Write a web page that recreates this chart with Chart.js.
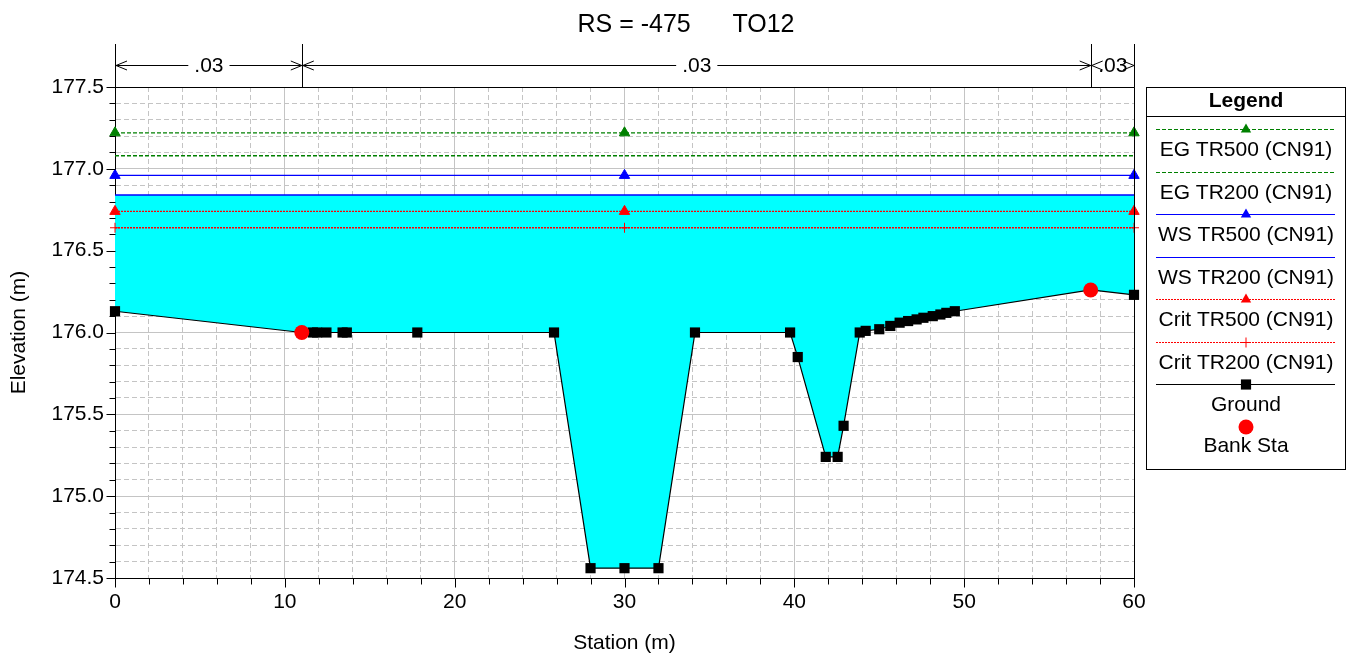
<!DOCTYPE html>
<html>
<head>
<meta charset="utf-8">
<script src="https://cdn.jsdelivr.net/npm/chart.js@4/dist/chart.umd.min.js"></script>
<style>
html,body{margin:0;padding:0;background:#fff;}
#wrap{position:relative;width:1351px;height:663px;}
canvas{display:block;}
</style>
</head>
<body>
<div id="wrap"><canvas id="c" width="1351" height="663"></canvas></div>
<script>
// ---------------- DATA ----------------
const chartTitle = 'RS = -475      TO12';
const xAxisTitle = 'Station (m)';
const yAxisTitle = 'Elevation (m)';
const legendTitle = 'Legend';

const groundStation = [0, 11.0, 11.65, 11.9, 12.45, 13.4, 13.65, 17.8, 25.85, 28.0, 30.0, 32.0, 34.15, 39.75, 40.2, 41.85, 42.55, 42.9, 43.85, 44.2, 45.0, 45.65, 46.2, 46.7, 47.2, 47.6, 48.15, 48.6, 48.95, 49.45, 57.45, 60.0];
const groundElevation = [176.13, 176.00, 176.00, 176.00, 176.00, 176.00, 176.00, 176.00, 176.00, 174.56, 174.56, 174.56, 176.00, 176.00, 175.85, 175.24, 175.24, 175.43, 176.00, 176.01, 176.02, 176.04, 176.06, 176.07, 176.08, 176.09, 176.10, 176.11, 176.12, 176.13, 176.26, 176.23];

const bankStation = [11.0, 57.45];
const bankElevation = [176.00, 176.26];

const profileNames = ['EG TR500 (CN91)', 'EG TR200 (CN91)', 'WS TR500 (CN91)', 'WS TR200 (CN91)', 'Crit TR500 (CN91)', 'Crit TR200 (CN91)'];
const profileElevation = [177.22, 177.08, 176.96, 176.84, 176.74, 176.64];
const profileStations = [0, 30, 60];
const waterFillProfile = 'WS TR200 (CN91)';

const manningValues = ['.03', '.03', '.03'];

const xTicks = {min: 0, max: 60, step: 2, labelEvery: 10};
const yTicks = {min: 174.5, max: 177.5, step: 0.1, labelEvery: 0.5};

// ---------------- STYLES ----------------
const FONT = '"Liberation Sans", Arial, sans-serif';
const profileStyles = [
  {color: '#008000', dash: [4, 2], marker: 'triangle'},
  {color: '#008000', dash: [4, 2], marker: null},
  {color: '#0000ff', dash: [], marker: 'triangle'},
  {color: '#0000ff', dash: [], marker: null},
  {color: '#ff0000', dash: [2, 1], marker: 'triangle'},
  {color: '#ff0000', dash: [2, 1], marker: 'cross'}
];

const datasets = profileNames.map((name, i) => {
  const st = profileStyles[i];
  const pts = st.marker ? profileStations : [profileStations[0], profileStations[profileStations.length - 1]];
  return {
    label: name,
    data: pts.map(x => ({x: x, y: profileElevation[i]})),
    showLine: true,
    borderColor: st.color,
    borderWidth: 1.3,
    borderDash: st.dash,
    backgroundColor: st.color,
    pointStyle: st.marker || 'circle',
    pointRadius: st.marker ? (st.marker === 'cross' ? 5 : 6) : 0,
    pointBackgroundColor: st.color,
    pointBorderColor: st.color,
    pointBorderWidth: 1,
    fill: false,
    tension: 0,
    clip: false,
    order: 2,
    _marker: st.marker,
    _line: true
  };
});

datasets.push({
  label: 'Ground',
  data: groundStation.map((x, i) => ({x: x, y: groundElevation[i]})),
  showLine: true,
  borderColor: '#000000',
  borderWidth: 1.2,
  backgroundColor: '#00ffff',
  fill: {value: profileElevation[profileNames.indexOf(waterFillProfile)]},
  pointStyle: 'rect',
  pointRadius: 7.2,
  pointBackgroundColor: '#000000',
  pointBorderColor: '#000000',
  pointBorderWidth: 0,
  tension: 0,
  clip: false,
  order: 1,
  _marker: 'rect',
  _line: true
});

datasets.push({
  label: 'Bank Sta',
  data: bankStation.map((x, i) => ({x: x, y: bankElevation[i]})),
  showLine: false,
  borderColor: '#ff0000',
  backgroundColor: '#ff0000',
  pointStyle: 'circle',
  pointRadius: 7.5,
  pointBackgroundColor: '#ff0000',
  pointBorderColor: '#ff0000',
  pointBorderWidth: 0,
  clip: false,
  order: 0,
  _marker: 'circle',
  _line: false
});

function near(v, step) { const q = v / step; return Math.abs(q - Math.round(q)) < 1e-6; }

function drawMarker(ctx, style, x, y, r, color) {
  ctx.save();
  ctx.setLineDash([]);
  ctx.fillStyle = color; ctx.strokeStyle = color; ctx.lineWidth = 1;
  ctx.beginPath();
  if (style === 'triangle') {
    ctx.moveTo(x, y - r);
    ctx.lineTo(x + 0.866 * r, y + 0.5 * r);
    ctx.lineTo(x - 0.866 * r, y + 0.5 * r);
    ctx.closePath(); ctx.fill();
  } else if (style === 'rect') {
    const s = r * Math.SQRT1_2;
    ctx.rect(x - s, y - s, 2 * s, 2 * s); ctx.fill();
  } else if (style === 'cross') {
    ctx.moveTo(x - r, y); ctx.lineTo(x + r, y);
    ctx.moveTo(x, y - r); ctx.lineTo(x, y + r); ctx.stroke();
  } else {
    ctx.arc(x, y, r, 0, Math.PI * 2); ctx.fill();
  }
  ctx.restore();
}

const decorPlugin = {
  id: 'decor',
  afterDraw(chart) {
    const ctx = chart.ctx;
    const xs = chart.scales.x, ys = chart.scales.y;
    const ca = chart.chartArea;
    const L = Math.round(ca.left) + 0.5, R = Math.round(ca.right) + 0.5;
    const T = Math.round(ca.top) + 0.5, B = Math.round(ca.bottom) + 0.5;
    ctx.save();
    ctx.setLineDash([]);
    ctx.strokeStyle = '#000'; ctx.lineWidth = 1;
    // frame
    ctx.beginPath();
    ctx.moveTo(L, T); ctx.lineTo(R, T); ctx.lineTo(R, B);
    ctx.stroke();
    // tick marks
    ctx.beginPath();
    xs.ticks.forEach(t => {
      const px = Math.round(xs.getPixelForValue(t.value)) + 0.5;
      const len = near(t.value, xTicks.labelEvery) ? 9 : 6;
      ctx.moveTo(px, B); ctx.lineTo(px, B + len);
    });
    ys.ticks.forEach(t => {
      const py = Math.round(ys.getPixelForValue(t.value)) + 0.5;
      const len = near(t.value - yTicks.min, yTicks.labelEvery) ? 9 : 6;
      ctx.moveTo(L, py); ctx.lineTo(L - len, py);
    });
    ctx.stroke();

    // Manning's n header
    const breaks = [groundStation[0]].concat(bankStation, [groundStation[groundStation.length - 1]]);
    const yTop = 44, yArrow = 65.5;
    ctx.font = '21px ' + FONT;
    ctx.textAlign = 'center'; ctx.textBaseline = 'middle'; ctx.fillStyle = '#000';
    ctx.beginPath();
    breaks.forEach(b => {
      const px = Math.round(xs.getPixelForValue(b)) + 0.5;
      ctx.moveTo(px, yTop); ctx.lineTo(px, T);
    });
    ctx.stroke();
    for (let i = 0; i < breaks.length - 1; i++) {
      const x1 = xs.getPixelForValue(breaks[i]) + 1, x2 = xs.getPixelForValue(breaks[i + 1]);
      const mid = (x1 + x2) / 2;
      const tw = ctx.measureText(manningValues[i]).width;
      ctx.beginPath();
      if (x2 - x1 > tw + 30) {
        ctx.moveTo(x1, yArrow); ctx.lineTo(mid - tw / 2 - 6, yArrow);
        ctx.moveTo(mid + tw / 2 + 6, yArrow); ctx.lineTo(x2, yArrow);
      }
      ctx.moveTo(x1 + 11, yArrow - 4.5); ctx.lineTo(x1, yArrow); ctx.lineTo(x1 + 11, yArrow + 4.5);
      ctx.moveTo(x2 - 11, yArrow - 4.5); ctx.lineTo(x2, yArrow); ctx.lineTo(x2 - 11, yArrow + 4.5);
      ctx.stroke();
      ctx.fillText(manningValues[i], mid, yArrow + 1);
    }

    // Title
    ctx.font = '25px ' + FONT;
    ctx.textAlign = 'center'; ctx.textBaseline = 'middle';
    ctx.fillText(chartTitle, 686, 25);

    // Legend
    const lx0 = 1146.5, lx1 = 1345.5, ly0 = T, ly1 = 469.5;
    const cx = (lx0 + lx1) / 2;
    ctx.strokeStyle = '#000';
    ctx.strokeRect(lx0, ly0, lx1 - lx0, ly1 - ly0);
    ctx.beginPath(); ctx.moveTo(lx0, 116.5); ctx.lineTo(lx1, 116.5); ctx.stroke();
    ctx.font = 'bold 21px ' + FONT;
    ctx.fillText(legendTitle, cx, 101);
    ctx.font = '21px ' + FONT;
    chart.data.datasets.forEach((ds, i) => {
      if (ds._line) {
        const sy = Math.round(129 + i * 42.5) + 0.5;
        ctx.save();
        ctx.strokeStyle = ds.borderColor; ctx.lineWidth = 1;
        ctx.setLineDash(ds.borderDash || []);
        ctx.beginPath(); ctx.moveTo(1156, sy); ctx.lineTo(1335, sy); ctx.stroke();
        ctx.restore();
        if (ds._marker) drawMarker(ctx, ds._marker, cx, sy, ds._marker === 'cross' ? 5 : (ds._marker === 'rect' ? 7.2 : 6), ds.pointBackgroundColor);
        ctx.fillStyle = '#000';
        ctx.fillText(ds.label, cx, sy + 21);
      } else {
        drawMarker(ctx, ds._marker, cx, 427, 7.5, ds.pointBackgroundColor);
        ctx.fillStyle = '#000';
        ctx.fillText(ds.label, cx, 446);
      }
    });
    ctx.restore();
  }
};

const gridColor = '#c4c4c4';
new Chart(document.getElementById('c'), {
  type: 'scatter',
  data: {datasets: datasets},
  options: {
    responsive: false,
    animation: false,
    events: [],
    layout: {padding: {left: 0, right: 217, top: 87, bottom: 0}},
    plugins: {
      legend: {display: false},
      tooltip: {enabled: false},
      title: {display: false},
      filler: {drawTime: 'beforeDatasetsDraw'}
    },
    scales: {
      x: {
        type: 'linear',
        min: xTicks.min, max: xTicks.max,
        afterFit(s) { s.height = 85; s.paddingLeft = 0; s.paddingRight = 0; },
        ticks: {
          stepSize: xTicks.step, autoSkip: false, maxRotation: 0, padding: 12,
          color: '#000', font: {family: FONT, size: 21},
          callback: v => near(v, xTicks.labelEvery) ? String(Math.round(v)) : ''
        },
        grid: {color: gridColor, lineWidth: 1, drawTicks: false},
        border: {color: '#000', width: 1, dash: c => (c.tick && near(c.tick.value, xTicks.labelEvery)) ? [] : [5, 3]},
        title: {display: true, text: xAxisTitle, color: '#000', font: {family: FONT, size: 21}, padding: {top: 0, bottom: 7}}
      },
      y: {
        type: 'linear',
        min: yTicks.min, max: yTicks.max,
        afterFit(s) { s.width = 115; s.paddingTop = 0; s.paddingBottom = 0; },
        ticks: {
          stepSize: yTicks.step, autoSkip: false, padding: 11,
          color: '#000', font: {family: FONT, size: 21},
          callback: v => near(v - yTicks.min, yTicks.labelEvery) ? Number(v).toFixed(1) : ''
        },
        grid: {color: gridColor, lineWidth: 1, drawTicks: false},
        border: {color: '#000', width: 1, dash: c => (c.tick && near(c.tick.value - yTicks.min, yTicks.labelEvery)) ? [] : [5, 3]},
        title: {display: true, text: yAxisTitle, color: '#000', font: {family: FONT, size: 21}, padding: {top: 7, bottom: 0}}
      }
    }
  },
  plugins: [decorPlugin]
});
</script>
</body>
</html>
